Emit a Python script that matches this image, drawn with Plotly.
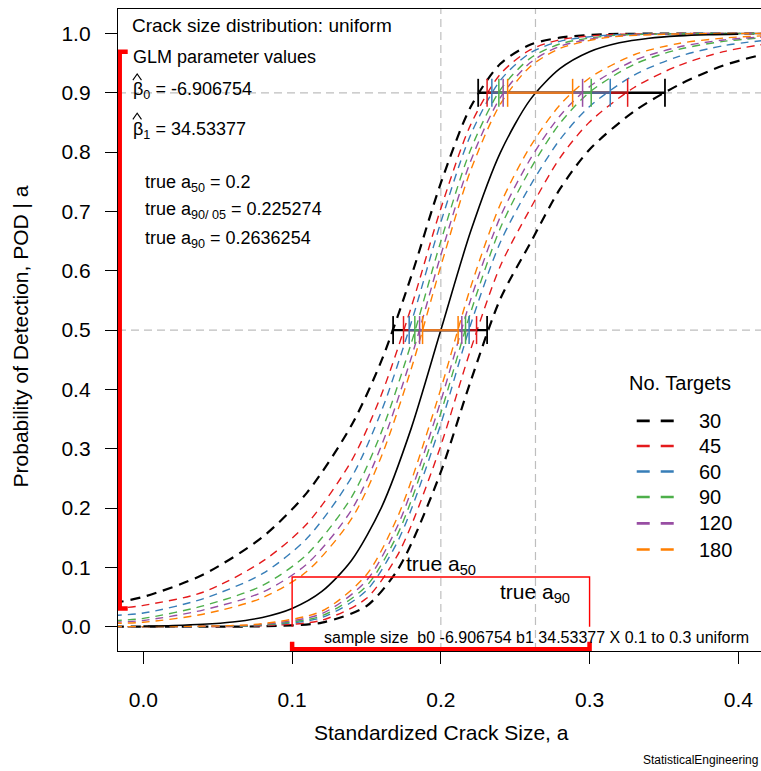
import plotly.graph_objects as go

# Logistic POD model parameters
b0 = -6.906754
b1 = 34.53377
a50_true = 0.2
a90_05_true = 0.225274
a90_true = 0.2636254
crack_min, crack_max = 0.1, 0.3

# True POD curve
true_a = [0.00, 0.02, 0.04, 0.06, 0.08, 0.10, 0.12, 0.14, 0.16, 0.18, 0.20,
          0.22, 0.24, 0.26, 0.28, 0.30, 0.32, 0.34, 0.36, 0.38, 0.40]
true_pod = [0.0010, 0.0020, 0.0040, 0.0079, 0.0156, 0.0307, 0.0594, 0.1119,
            0.2008, 0.3339, 0.5000, 0.6661, 0.7992, 0.8881, 0.9406, 0.9693,
            0.9844, 0.9921, 0.9960, 0.9980, 0.9990]

n_targets = [30, 45, 60, 90, 120, 180]
set_colors = ["#000000", "#E41A1C", "#377EB8", "#4DAF4A", "#984EA3", "#FF7F00"]

# Upper confidence bounds (left-hand curves)
upper_a = [-0.02, 0.00, 0.04, 0.08, 0.11, 0.14, 0.16, 0.18, 0.20, 0.22, 0.24,
           0.26, 0.28, 0.31, 0.35, 0.42]
upper_30 = [0.040, 0.0503, 0.0876, 0.151, 0.226, 0.340, 0.448, 0.590, 0.748,
            0.876, 0.949, 0.981, 0.993, 0.9986, 0.9998, 1.0]
upper_45 = [0.030, 0.036, 0.058, 0.110, 0.1735, 0.280, 0.391, 0.538, 0.705,
            0.846, 0.9316, 0.9724, 0.9894, 0.9976, 0.9997, 1.0]
upper_60 = [0.019, 0.023, 0.047, 0.0893, 0.149, 0.252, 0.363, 0.512, 0.682,
            0.829, 0.921, 0.967, 0.9868, 0.9968, 0.9995, 1.0]
upper_90 = [0.010, 0.014, 0.035, 0.0694, 0.122, 0.2186, 0.328, 0.477, 0.650,
            0.804, 0.905, 0.958, 0.9823, 0.9954, 0.9992, 1.0]
upper_120 = [0.0075, 0.0105, 0.028, 0.0581, 0.1058, 0.197, 0.305, 0.4526,
             0.6265, 0.7847, 0.892, 0.9506, 0.9784, 0.994, 0.999, 1.0]
upper_180 = [0.0055, 0.0075, 0.021, 0.0487, 0.0933, 0.182, 0.287, 0.434, 0.608,
             0.769, 0.881, 0.944, 0.9747, 0.9927, 0.9987, 1.0]

# Lower confidence bounds (right-hand curves)
lower_a = [-0.02, 0.04, 0.08, 0.12, 0.15, 0.17, 0.18, 0.20, 0.22, 0.24, 0.26,
           0.28, 0.30, 0.33, 0.36, 0.39, 0.42]
lower_30 = [0.0, 0.0001, 0.0008, 0.0069, 0.0347, 0.0923, 0.139, 0.261, 0.4136,
            0.5526, 0.646, 0.7375, 0.8044, 0.8688, 0.9134, 0.946, 0.967]
lower_45 = [0.0, 0.0002, 0.0015, 0.0110, 0.0478, 0.1167, 0.170, 0.3054, 0.467,
            0.608, 0.704, 0.790, 0.8507, 0.909, 0.946, 0.9694, 0.9829]
lower_60 = [0.0, 0.0003, 0.0024, 0.0155, 0.0609, 0.139, 0.197, 0.342, 0.509,
            0.648, 0.743, 0.821, 0.877, 0.930, 0.9613, 0.9794, 0.9892]
lower_90 = [0.0001, 0.0004, 0.0030, 0.0184, 0.0686, 0.151, 0.212, 0.3605,
            0.5295, 0.672, 0.7706, 0.8484, 0.901, 0.948, 0.9732, 0.9867, 0.9935]
lower_120 = [0.0001, 0.0006, 0.0039, 0.0220, 0.0776, 0.165, 0.228, 0.3806,
             0.551, 0.691, 0.7877, 0.861, 0.9105, 0.9545, 0.9773, 0.9891, 0.9948]
lower_180 = [0.0001, 0.0009, 0.0050, 0.0263, 0.0876, 0.180, 0.245, 0.401, 0.572,
             0.712, 0.809, 0.8793, 0.925, 0.9642, 0.9832, 0.9923, 0.9965]

# Crack sizes where each bound crosses POD = 0.5 and POD = 0.9
a50_left = [0.1679, 0.1749, 0.1787, 0.1825, 0.1857, 0.1877]
a50_right = [0.2311, 0.2240, 0.2190, 0.2166, 0.2141, 0.2116]
a90_left = [0.2251, 0.2311, 0.2343, 0.2390, 0.2419, 0.2449]
a90_right = [0.3507, 0.3256, 0.3139, 0.3011, 0.2953, 0.2886]

x_ticks = [0.0, 0.1, 0.2, 0.3, 0.4]
y_ticks = [0.0, 0.1, 0.2, 0.3, 0.4, 0.5, 0.6, 0.7, 0.8, 0.9, 1.0]

upper_sets = [upper_30, upper_45, upper_60, upper_90, upper_120, upper_180]
lower_sets = [lower_30, lower_45, lower_60, lower_90, lower_120, lower_180]

FONT = "Liberation Sans, Arial, sans-serif"
GRAY = "#BEBEBE"
RED = "#FF0000"


def rgba(hex_color, alpha):
    h = hex_color.lstrip("#")
    r, g, b = int(h[0:2], 16), int(h[2:4], 16), int(h[4:6], 16)
    return f"rgba({r},{g},{b},{alpha})"


fig = go.Figure()

# grey reference lines at POD 0.5 / 0.9 and at true a50 / a90
for yv in (0.5, 0.9):
    fig.add_shape(type="line", xref="paper", x0=0, x1=1, yref="y", y0=yv, y1=yv,
                  line=dict(color=GRAY, width=1.2, dash="8px,5px"), layer="below")
for xv in (a50_true, a90_true):
    fig.add_shape(type="line", xref="x", x0=xv, x1=xv, yref="paper", y0=0, y1=1,
                  line=dict(color=GRAY, width=1.2, dash="8px,5px"), layer="below")

# confidence bound curves
for i, n in enumerate(n_targets):
    is_black = i == 0
    style = dict(color=set_colors[i], width=2.2 if is_black else 1.4,
                 dash="10px,7px" if is_black else "8px,6px", shape="spline",
                 smoothing=0.8)
    fig.add_trace(go.Scatter(x=upper_a, y=upper_sets[i], mode="lines", line=style,
                             name=f"{n} upper", showlegend=False, hoverinfo="skip"))
    fig.add_trace(go.Scatter(x=lower_a, y=lower_sets[i], mode="lines", line=style,
                             name=f"{n} lower", showlegend=False, hoverinfo="skip"))

# true POD curve
fig.add_trace(go.Scatter(x=true_a, y=true_pod, mode="lines",
                         line=dict(color="black", width=1.6, shape="spline", smoothing=0.8),
                         name="true POD", showlegend=False, hoverinfo="skip"))

# interval bars at POD = 0.5 and POD = 0.9
TICK_H = 0.0236
for level, lefts, rights in ((0.5, a50_left, a50_right), (0.9, a90_left, a90_right)):
    for i, n in enumerate(n_targets):
        col = set_colors[i]
        fig.add_trace(go.Scatter(x=[lefts[i], rights[i]], y=[level, level], mode="lines",
                                 line=dict(color=col if i == 0 else rgba(col, 0.75), width=2.4),
                                 showlegend=False, hoverinfo="skip"))
        fig.add_trace(go.Scatter(x=[lefts[i], lefts[i], None, rights[i], rights[i]],
                                 y=[level - TICK_H, level + TICK_H, None,
                                    level - TICK_H, level + TICK_H],
                                 mode="lines", line=dict(color=col, width=1.8 if i == 0 else 1.5),
                                 showlegend=False, hoverinfo="skip"))

# uniform crack size distribution outline
rect_h = 0.0837
fig.add_trace(go.Scatter(x=[crack_min, crack_min, crack_max, crack_max],
                         y=[0, rect_h, rect_h, 0], mode="lines",
                         line=dict(color=RED, width=1.4), showlegend=False, hoverinfo="skip"))

# POD range covered by the crack-size range (left) and the crack-size range (bottom)
pod_lo = true_pod[true_a.index(crack_min)]
pod_hi = true_pod[true_a.index(crack_max)]
bx, btab = -0.01594, -0.01056
fig.add_trace(go.Scatter(x=[btab, bx, bx, btab], y=[pod_hi, pod_hi, pod_lo, pod_lo],
                         mode="lines", line=dict(color=RED, width=4.5),
                         showlegend=False, hoverinfo="skip", cliponaxis=False))
by, bytab = -0.0381, -0.0253
fig.add_trace(go.Scatter(x=[crack_min, crack_min, crack_max, crack_max],
                         y=[bytab, by, by, bytab], mode="lines",
                         line=dict(color=RED, width=4.5),
                         showlegend=False, hoverinfo="skip", cliponaxis=False))

# legend drawn in the free area on the right
leg_x0, leg_x1, leg_text_x = 0.3317, 0.3568, 0.3724
leg_y = [0.3468, 0.3046, 0.2616, 0.2186, 0.1743, 0.1301]
annotations = []
for i, n in enumerate(n_targets):
    fig.add_shape(type="line", xref="x", yref="y", x0=leg_x0, x1=leg_x1,
                  y0=leg_y[i], y1=leg_y[i],
                  line=dict(color=set_colors[i], width=2.7, dash="13px,11px"))
    annotations.append(dict(x=leg_text_x, y=leg_y[i], text=str(n), xanchor="left",
                            yanchor="middle", font=dict(size=20)))
annotations.append(dict(x=0.3253, y=0.4103, text="No. Targets", xanchor="left",
                        yanchor="middle", font=dict(size=20)))


def txt(x, y, text, size, anchor="left", **kw):
    d = dict(x=x, y=y, text=text, xanchor=anchor, yanchor="middle", font=dict(size=size))
    d.update(kw)
    annotations.append(d)


# parameter text block
txt(-0.0090, 1.0143, "Crack size distribution: uniform", 19)
txt(-0.0083, 0.9609, "GLM parameter values", 18)
txt(-0.0083, 0.9047, f"\u03b2<sub>0</sub> = {b0}", 18)
txt(-0.0083, 0.8373, f"\u03b2<sub>1</sub> = {b1}", 18)
txt(-0.0005, 0.7475, f"true a<sub>50</sub> = {a50_true}", 18)
txt(-0.0005, 0.7008, f"true a<sub>90/ 05</sub> = {a90_05_true}", 18)
txt(-0.0005, 0.6519, f"true a<sub>90</sub> = {a90_true}", 18)

# estimator hats above the two betas
hat_x, hat_dx, hat_dy = -0.0042, 0.0029, 0.0052
for hat_y in (0.9265, 0.8605):
    fig.add_shape(type="path", xref="x", yref="y",
                  path=(f"M {hat_x - hat_dx},{hat_y - hat_dy} L {hat_x},{hat_y + hat_dy} "
                        f"L {hat_x + hat_dx},{hat_y - hat_dy}"),
                  line=dict(color="black", width=1.1))

# labels for the true a50 / a90 sizes
txt(a50_true, 0.104, "true a<sub>50</sub>", 21, anchor="center")
txt(a90_true, 0.056, "true a<sub>90</sub>", 21, anchor="center")

txt(0.4085, -0.0179,
    f"sample size  b0 {b0} b1 {b1} X {crack_min} to {crack_max} uniform", 16,
    anchor="right")

# axis titles and footer
annotations.append(dict(xref="paper", yref="paper", x=(441 - 118) / 643, y=-0.1277,
                        text="Standardized Crack Size, a", xanchor="center",
                        yanchor="middle", font=dict(size=21)))
annotations.append(dict(xref="paper", yref="paper", x=-0.1524, y=0.49,
                        text="Probability of Detection, POD | a", textangle=-90,
                        xanchor="center", yanchor="middle", font=dict(size=21)))
annotations.append(dict(xref="paper", yref="paper", x=0.9985, y=-0.1698,
                        text="StatisticalEngineering", xanchor="right",
                        yanchor="middle", font=dict(size=12)))

for a in annotations:
    a.setdefault("showarrow", False)
    a.setdefault("xref", "x")
    a.setdefault("yref", "y")

fig.update_layout(
    width=761, height=771,
    margin=dict(l=118, r=0, t=9, b=120),
    paper_bgcolor="white", plot_bgcolor="white",
    font=dict(family=FONT, color="black"),
    showlegend=False,
    annotations=annotations,
    xaxis=dict(range=[-0.01709, 0.41527], tickvals=x_ticks, tickformat=".1f",
               ticks="outside", ticklen=12, tickwidth=1.3, tickcolor="black",
               showline=True, linecolor="black", linewidth=1.3, mirror=True,
               showgrid=False, zeroline=False, tickfont=dict(size=21),
               ticklabelstandoff=18),
    yaxis=dict(range=[-0.041, 1.0413], tickvals=y_ticks, tickformat=".1f",
               ticks="outside", ticklen=12, tickwidth=1.3, tickcolor="black",
               showline=True, linecolor="black", linewidth=1.3, mirror=False,
               showgrid=False, zeroline=False, tickfont=dict(size=21),
               ticklabelstandoff=10),
)

fig.write_html("out.html")
